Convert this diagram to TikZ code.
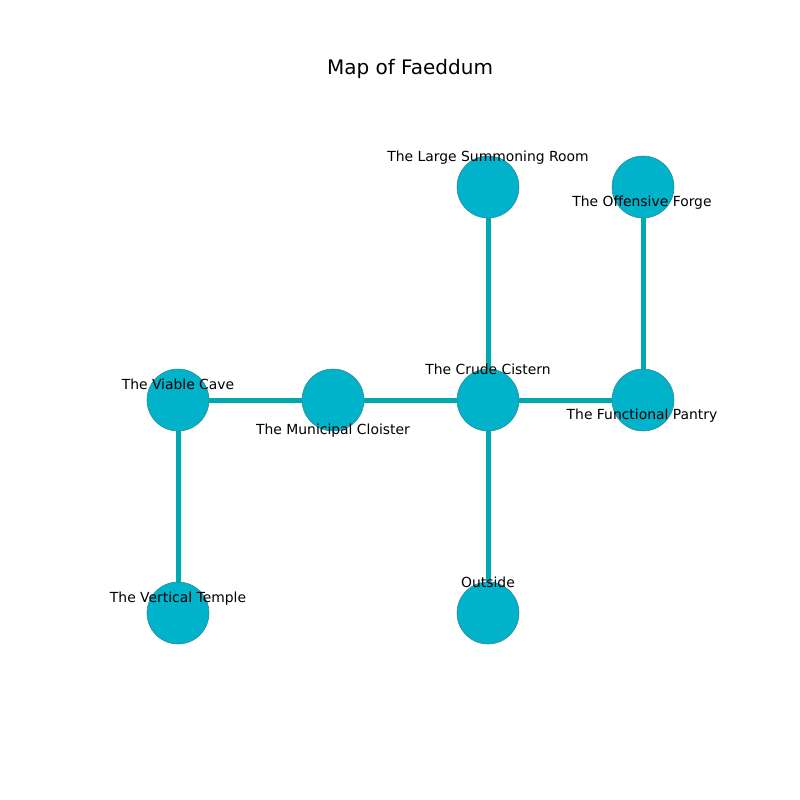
\documentclass[tikz,border=0pt]{standalone}
\usepackage{fontspec}
\setmainfont{DejaVu Sans}
\definecolor{nodefill}{HTML}{00B2CA}
\definecolor{nodeedge}{HTML}{2E8A96}
\definecolor{edgecol}{HTML}{00A9AD}
\begin{document}
\begin{tikzpicture}[x=0.72pt,y=-0.72pt,
  room/.style={circle,fill=nodefill,draw=nodeedge,line width=0.4pt,minimum size=62*0.72pt,inner sep=0pt},
  link/.style={draw=edgecol,line width=3.6pt},
  lbl/.style={font=\fontsize{10}{12}\selectfont,inner sep=0pt,anchor=base}]
\useasboundingbox (0,0) rectangle (800,800);
\node[font=\fontsize{14.4}{17}\selectfont] (title) at (410,69) {Map of Faeddum};
\coordinate (lsr) at (488,187);
\coordinate (of) at (643,187);
\coordinate (vc) at (178,400);
\coordinate (mc) at (333,400);
\coordinate (cc) at (488,400);
\coordinate (fp) at (643,400);
\coordinate (vt) at (178,613);
\coordinate (out) at (488,613);
\draw[link] (lsr) -- (cc);
\draw[link] (of) -- (fp);
\draw[link] (vc) -- (mc);
\draw[link] (mc) -- (cc);
\draw[link] (cc) -- (fp);
\draw[link] (cc) -- (out);
\draw[link] (vc) -- (vt);
\node[room] (nlsr) at (lsr) {};
\node[room] (nof) at (of) {};
\node[room] (nvc) at (vc) {};
\node[room] (nmc) at (mc) {};
\node[room] (ncc) at (cc) {};
\node[room] (nfp) at (fp) {};
\node[room] (nvt) at (vt) {};
\node[room] (nout) at (out) {};
\node[lbl] (llsr) at (488,161.5) {The Large Summoning Room};
\node[lbl] (lof) at (642,206.5) {The Offensive Forge};
\node[lbl] (lvc) at (178,389.5) {The Viable Cave};
\node[lbl] (lmc) at (333,434.5) {The Municipal Cloister};
\node[lbl] (lcc) at (488,374.5) {The Crude Cistern};
\node[lbl] (lfp) at (642,419.5) {The Functional Pantry};
\node[lbl] (lvt) at (178,602.5) {The Vertical Temple};
\node[lbl] (lout) at (488,587.5) {Outside};
\end{tikzpicture}
\end{document}
